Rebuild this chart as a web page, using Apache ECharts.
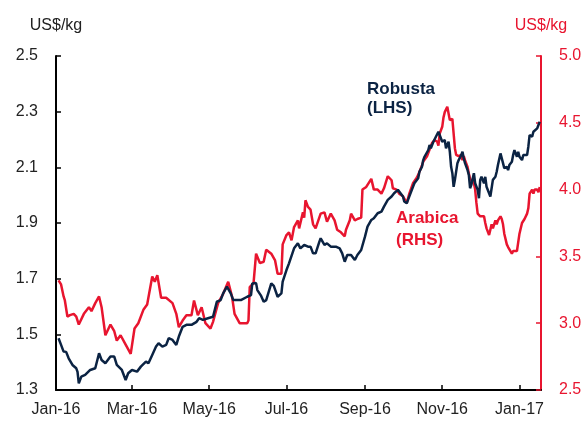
<!DOCTYPE html>
<html>
<head>
<meta charset="utf-8">
<script src="https://cdn.jsdelivr.net/npm/echarts@6/dist/echarts.min.js"></script>
<style>
  html, body { margin: 0; padding: 0; background: #fff; }
  #chart { width: 586px; height: 423px; }
</style>
</head>
<body>
<div id="chart"></div>
<script>
// Robusta (LHS), US$/kg
const robustaDates = ['2016-01-03','2016-01-05','2016-01-07','2016-01-09','2016-01-11','2016-01-14','2016-01-17','2016-01-18','2016-01-19','2016-01-21','2016-01-24','2016-01-28','2016-02-01','2016-02-04','2016-02-06','2016-02-09','2016-02-13','2016-02-16','2016-02-18','2016-02-22','2016-02-25','2016-02-27','2016-03-01','2016-03-05','2016-03-08','2016-03-12','2016-03-14','2016-03-17','2016-03-20','2016-03-22','2016-03-25','2016-03-28','2016-03-30','2016-04-02','2016-04-05','2016-04-07','2016-04-10','2016-04-13','2016-04-17','2016-04-21','2016-04-23','2016-04-26','2016-04-30','2016-05-04','2016-05-07','2016-05-10','2016-05-12','2016-05-15','2016-05-18','2016-05-20','2016-05-26','2016-05-31','2016-06-03','2016-06-04','2016-06-07','2016-06-08','2016-06-11','2016-06-13','2016-06-15','2016-06-16','2016-06-19','2016-06-21','2016-06-24','2016-06-27','2016-06-28','2016-07-01','2016-07-03','2016-07-04','2016-07-07','2016-07-10','2016-07-12','2016-07-15','2016-07-18','2016-07-20','2016-07-22','2016-07-24','2016-07-27','2016-07-28','2016-07-31','2016-08-02','2016-08-05','2016-08-09','2016-08-12','2016-08-14','2016-08-16','2016-08-18','2016-08-21','2016-08-24','2016-08-26','2016-08-29','2016-09-01','2016-09-03','2016-09-06','2016-09-08','2016-09-11','2016-09-14','2016-09-16','2016-09-19','2016-09-22','2016-09-24','2016-09-27','2016-09-28','2016-10-01','2016-10-02','2016-10-04','2016-10-05','2016-10-08','2016-10-10','2016-10-13','2016-10-14','2016-10-16','2016-10-17','2016-10-18','2016-10-21','2016-10-22','2016-10-23','2016-10-25','2016-10-26','2016-10-27','2016-10-29','2016-10-30','2016-11-01','2016-11-02','2016-11-03','2016-11-04','2016-11-06','2016-11-07','2016-11-08','2016-11-09','2016-11-10','2016-11-11','2016-11-13','2016-11-14','2016-11-16','2016-11-17','2016-11-18','2016-11-19','2016-11-21','2016-11-22','2016-11-23','2016-11-24','2016-11-26','2016-11-27','2016-11-29','2016-11-30','2016-12-01','2016-12-02','2016-12-04','2016-12-05','2016-12-06','2016-12-08','2016-12-09','2016-12-10','2016-12-11','2016-12-13','2016-12-14','2016-12-15','2016-12-17','2016-12-18','2016-12-19','2016-12-20','2016-12-22','2016-12-23','2016-12-24','2016-12-26','2016-12-27','2016-12-28','2016-12-30','2016-12-31','2017-01-01','2017-01-03','2017-01-04','2017-01-07','2017-01-08','2017-01-09','2017-01-11','2017-01-12','2017-01-13','2017-01-15','2017-01-16','2017-01-17']
const robustaValues = [1.486,1.462,1.438,1.437,1.414,1.390,1.378,1.365,1.324,1.348,1.354,1.372,1.378,1.432,1.408,1.396,1.420,1.420,1.390,1.372,1.336,1.360,1.372,1.366,1.384,1.402,1.396,1.426,1.456,1.468,1.456,1.462,1.486,1.480,1.462,1.492,1.527,1.534,1.534,1.545,1.558,1.552,1.558,1.563,1.617,1.623,1.647,1.671,1.647,1.623,1.623,1.635,1.641,1.683,1.684,1.659,1.638,1.617,1.623,1.630,1.683,1.674,1.635,1.647,1.689,1.731,1.755,1.761,1.809,1.827,1.809,1.821,1.815,1.815,1.791,1.791,1.833,1.845,1.821,1.827,1.815,1.815,1.809,1.791,1.761,1.785,1.785,1.767,1.785,1.803,1.851,1.887,1.911,1.917,1.935,1.941,1.959,1.983,1.995,2.007,2.019,2.012,1.995,1.977,1.971,1.983,2.019,2.043,2.061,2.084,2.102,2.126,2.138,2.162,2.180,2.168,2.192,2.186,2.210,2.228,2.234,2.192,2.198,2.198,2.168,2.192,2.156,2.102,2.079,2.030,2.055,2.115,2.126,2.144,2.156,2.132,2.115,2.090,2.073,2.025,2.037,2.079,2.043,2.019,1.989,2.055,2.066,2.043,2.066,2.030,2.007,1.995,2.025,2.055,2.066,2.084,2.108,2.150,2.156,2.115,2.097,2.102,2.090,2.108,2.120,2.144,2.162,2.138,2.156,2.138,2.126,2.144,2.144,2.174,2.216,2.210,2.228,2.234,2.240,2.252,2.264]

// Arabica (RHS), US$/kg
const arabicaDates = ['2016-01-03','2016-01-05','2016-01-07','2016-01-08','2016-01-10','2016-01-12','2016-01-15','2016-01-17','2016-01-19','2016-01-23','2016-01-27','2016-01-29','2016-02-01','2016-02-04','2016-02-06','2016-02-09','2016-02-13','2016-02-16','2016-02-18','2016-02-21','2016-02-25','2016-02-29','2016-03-03','2016-03-06','2016-03-10','2016-03-13','2016-03-17','2016-03-19','2016-03-21','2016-03-24','2016-03-28','2016-04-02','2016-04-05','2016-04-07','2016-04-10','2016-04-13','2016-04-17','2016-04-19','2016-04-22','2016-04-25','2016-04-28','2016-05-02','2016-05-04','2016-05-08','2016-05-12','2016-05-16','2016-05-19','2016-05-21','2016-05-25','2016-05-31','2016-06-01','2016-06-02','2016-06-05','2016-06-07','2016-06-10','2016-06-13','2016-06-15','2016-06-19','2016-06-22','2016-06-24','2016-06-27','2016-06-28','2016-07-01','2016-07-03','2016-07-05','2016-07-07','2016-07-10','2016-07-11','2016-07-14','2016-07-15','2016-07-16','2016-07-18','2016-07-20','2016-07-22','2016-07-24','2016-07-28','2016-07-31','2016-08-02','2016-08-05','2016-08-08','2016-08-10','2016-08-13','2016-08-16','2016-08-17','2016-08-20','2016-08-21','2016-08-24','2016-08-26','2016-08-29','2016-08-30','2016-09-02','2016-09-04','2016-09-06','2016-09-08','2016-09-11','2016-09-14','2016-09-16','2016-09-19','2016-09-22','2016-09-23','2016-09-26','2016-09-28','2016-10-01','2016-10-04','2016-10-06','2016-10-09','2016-10-12','2016-10-13','2016-10-16','2016-10-17','2016-10-20','2016-10-22','2016-10-24','2016-10-26','2016-10-28','2016-10-29','2016-10-30','2016-11-01','2016-11-02','2016-11-03','2016-11-05','2016-11-06','2016-11-07','2016-11-09','2016-11-10','2016-11-11','2016-11-12','2016-11-13','2016-11-14','2016-11-16','2016-11-17','2016-11-18','2016-11-19','2016-11-21','2016-11-22','2016-11-23','2016-11-26','2016-11-27','2016-11-28','2016-11-29','2016-11-30','2016-12-01','2016-12-04','2016-12-05','2016-12-06','2016-12-08','2016-12-09','2016-12-10','2016-12-11','2016-12-13','2016-12-14','2016-12-15','2016-12-17','2016-12-18','2016-12-19','2016-12-20','2016-12-22','2016-12-23','2016-12-24','2016-12-26','2016-12-27','2016-12-30','2016-12-31','2017-01-01','2017-01-03','2017-01-05','2017-01-07','2017-01-08','2017-01-09','2017-01-11','2017-01-12','2017-01-13','2017-01-15','2017-01-16','2017-01-17']
const arabicaValues = [3.32,3.29,3.20,3.17,3.05,3.06,3.07,3.05,2.99,3.07,3.12,3.09,3.15,3.20,3.12,2.91,2.99,2.94,2.87,2.91,2.84,2.77,2.96,3.00,3.10,3.14,3.35,3.31,3.36,3.19,3.19,3.15,3.07,2.97,3.02,3.06,3.06,3.17,3.06,3.12,3.00,2.96,3.01,3.15,3.22,3.31,3.20,3.07,3.00,3.00,3.02,3.27,3.30,3.52,3.45,3.46,3.55,3.52,3.47,3.37,3.37,3.59,3.66,3.68,3.62,3.72,3.77,3.71,3.83,3.79,3.92,3.87,3.85,3.74,3.71,3.82,3.83,3.76,3.82,3.77,3.70,3.68,3.65,3.70,3.77,3.82,3.77,3.78,3.79,4.00,4.02,4.05,4.08,4.00,4.00,3.97,4.01,4.10,4.07,4.01,4.00,3.97,3.95,3.90,3.97,4.05,4.09,4.11,4.18,4.21,4.25,4.30,4.35,4.37,4.36,4.33,4.42,4.47,4.54,4.58,4.62,4.63,4.52,4.53,4.42,4.31,4.26,4.27,4.25,4.26,4.22,4.25,4.22,4.17,4.12,4.08,4.05,4.00,3.90,3.82,3.81,3.80,3.80,3.75,3.71,3.66,3.70,3.74,3.71,3.77,3.74,3.77,3.80,3.78,3.74,3.67,3.59,3.57,3.57,3.52,3.54,3.54,3.54,3.67,3.75,3.78,3.82,3.86,3.97,4.00,3.97,4.00,4.00,3.98,4.02]

// x-axis tick labels (every two months)
const monthTicks = ['2016-01-01','2016-03-01','2016-05-01','2016-07-01','2016-09-01','2016-11-01','2017-01-01']
const monthNames = ['Jan','Feb','Mar','Apr','May','Jun','Jul','Aug','Sep','Oct','Nov','Dec']

const navy = '#0b2343'
const red = '#e8152f'
const font = "'Liberation Sans', Arial, sans-serif"

// dates -> milliseconds so a plain value axis can take custom tick positions
function ts(s) {
  const p = s.split('-')
  return Date.UTC(+p[0], +p[1] - 1, +p[2])
}

const chart = echarts.init(document.getElementById('chart'))
const tickTimes = monthTicks.map(ts)

let option = {
  animation: false,
  grid: { left: 56, right: 45, top: 56, bottom: 33 },
  xAxis: {
    type: 'value',
    min: ts('2016-01-01'),
    max: ts('2017-01-18'),
    axisLine: { lineStyle: { color: '#000', width: 2 } },
    axisTick: {
      inside: true,
      length: 5,
      customValues: tickTimes,
      lineStyle: { color: '#000', width: 1.5 }
    },
    axisLabel: {
      customValues: tickTimes,
      color: '#222',
      fontSize: 16,
      fontFamily: font,
      margin: 12,
      formatter: function (v) {
        const d = new Date(v)
        return monthNames[d.getUTCMonth()] + '-' + String(d.getUTCFullYear()).slice(2)
      }
    },
    splitLine: { show: false }
  },
  yAxis: [
    {
      type: 'value',
      position: 'left',
      min: 1.3,
      max: 2.5,
      interval: 0.2,
      name: 'US$/kg',
      nameLocation: 'end',
      nameGap: 22,
      nameTextStyle: { color: '#222', fontSize: 16, fontFamily: font },
      axisLine: { show: true, lineStyle: { color: '#000', width: 2 } },
      axisTick: { show: true, inside: true, length: 5, lineStyle: { color: '#000', width: 1.5 } },
      axisLabel: {
        color: '#222', fontSize: 16, fontFamily: font, margin: 18,
        formatter: v => v.toFixed(1)
      },
      splitLine: { show: false }
    },
    {
      type: 'value',
      position: 'right',
      min: 2.5,
      max: 5.0,
      interval: 0.5,
      name: 'US$/kg',
      nameLocation: 'end',
      nameGap: 22,
      nameTextStyle: { color: red, fontSize: 16, fontFamily: font },
      axisLine: { show: true, lineStyle: { color: red, width: 2 } },
      axisTick: { show: true, inside: true, length: 5, lineStyle: { color: red, width: 1.5 } },
      axisLabel: {
        color: red, fontSize: 16, fontFamily: font, margin: 18,
        formatter: v => v.toFixed(1)
      },
      splitLine: { show: false }
    }
  ],
  series: [
    {
      name: 'Arabica (RHS)',
      type: 'line',
      yAxisIndex: 1,
      showSymbol: false,
      lineStyle: { color: red, width: 2.5 },
      itemStyle: { color: red },
      data: arabicaDates.map((d, i) => [ts(d), arabicaValues[i]])
    },
    {
      name: 'Robusta (LHS)',
      type: 'line',
      yAxisIndex: 0,
      showSymbol: false,
      lineStyle: { color: navy, width: 2.5 },
      itemStyle: { color: navy },
      data: robustaDates.map((d, i) => [ts(d), robustaValues[i]])
    }
  ],
  graphic: [
    { type: 'text', left: 367, top: 81, style: { text: 'Robusta', fill: navy, font: 'bold 17px ' + font } },
    { type: 'text', left: 367, top: 100, style: { text: '(LHS)', fill: navy, font: 'bold 17px ' + font } },
    { type: 'text', left: 396, top: 210, style: { text: 'Arabica', fill: red, font: 'bold 17px ' + font } },
    { type: 'text', left: 396, top: 232, style: { text: '(RHS)', fill: red, font: 'bold 17px ' + font } }
  ]
}
chart.setOption(option)
</script>
</body>
</html>
